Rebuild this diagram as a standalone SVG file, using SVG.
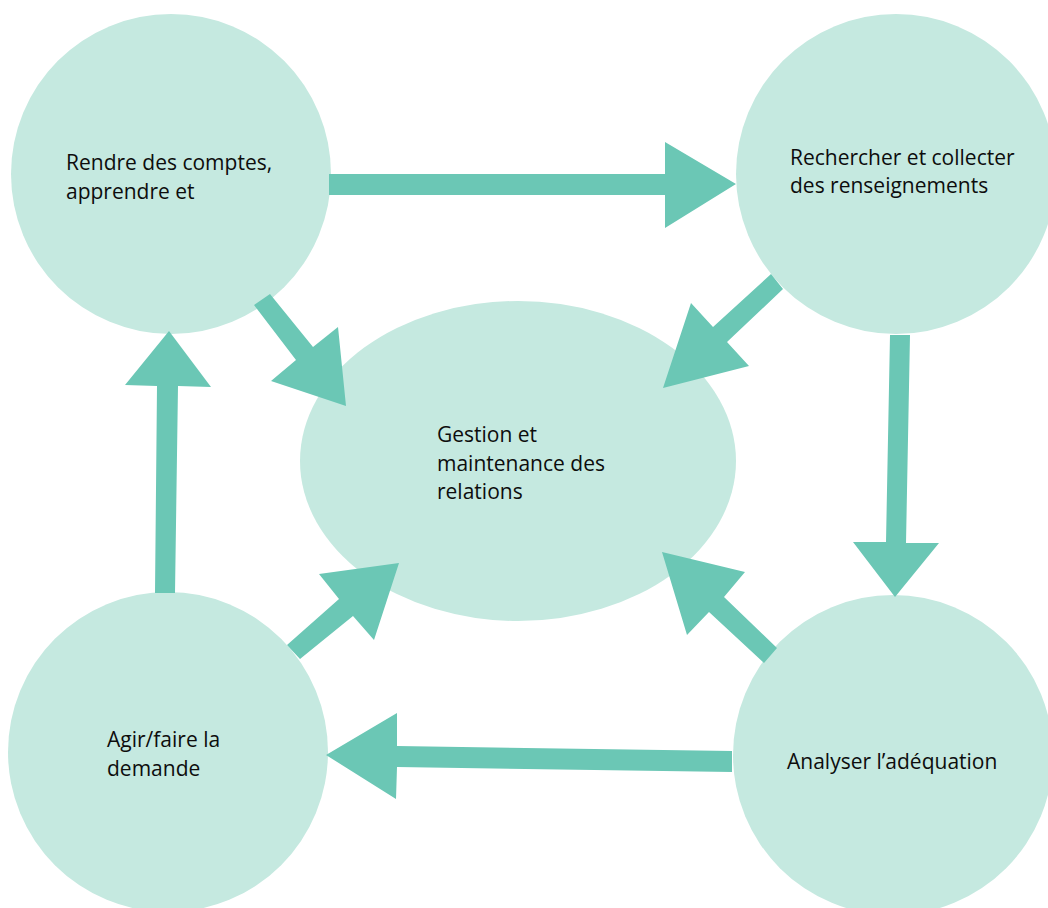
<svg xmlns="http://www.w3.org/2000/svg" width="1048" height="908" viewBox="0 0 1048 908">
<style>
.node{fill:#c5e9e0}
.arrow{fill:#6bc7b5}
text{font-family:"Open Sans","Liberation Sans",sans-serif;font-size:21px;fill:#0d0d0d}
</style>
<rect width="1048" height="908" fill="#ffffff"/>
<g id="node-center">
<ellipse class="node" cx="518" cy="461" rx="218" ry="160"/>
<text x="437" y="442">Gestion et</text>
<text x="437" y="471">maintenance des</text>
<text x="437" y="499">relations</text>
</g>
<g id="node-rendre">
<circle class="node" cx="171" cy="174" r="160"/>
<text x="66" y="170">Rendre des comptes,</text>
<text x="66" y="199">apprendre et</text>
</g>
<g id="node-rechercher">
<circle class="node" cx="896" cy="174" r="160"/>
<text x="790" y="165">Rechercher et collecter</text>
<text x="790" y="193">des renseignements</text>
</g>
<g id="node-agir">
<circle class="node" cx="168" cy="752" r="160"/>
<text x="107" y="747">Agir/faire la</text>
<text x="107" y="776">demande</text>
</g>
<g id="node-analyser">
<circle class="node" cx="893" cy="755" r="160"/>
<text x="787" y="769">Analyser l’adéquation</text>
</g>
<g id="connectors">
<polygon class="arrow" points="329,174 665,174 665,142 736,184 665,228 665,195 329,195"/>
<polygon class="arrow" points="270,294 313,347 338,327 346,406 271,381 296,360 254,305"/>
<polygon class="arrow" points="771,274 713,327 691,303 663,388 749,366 727,342 783,289"/>
<polygon class="arrow" points="890,335 910,335 906,543 939,543 895,597 853,542 886,542"/>
<polygon class="arrow" points="777,648 724,597 745,572 662,552 687,635 709,612 764,663"/>
<polygon class="arrow" points="732,751 732,772 397,767 396,799 326,755 397,713 397,746"/>
<polygon class="arrow" points="287,645 339,599 319,574 399,563 374,640 353,616 300,659"/>
<polygon class="arrow" points="169,331 211,387 178,386 175,593 155,593 157,386 125,385"/>
</g>
</svg>
